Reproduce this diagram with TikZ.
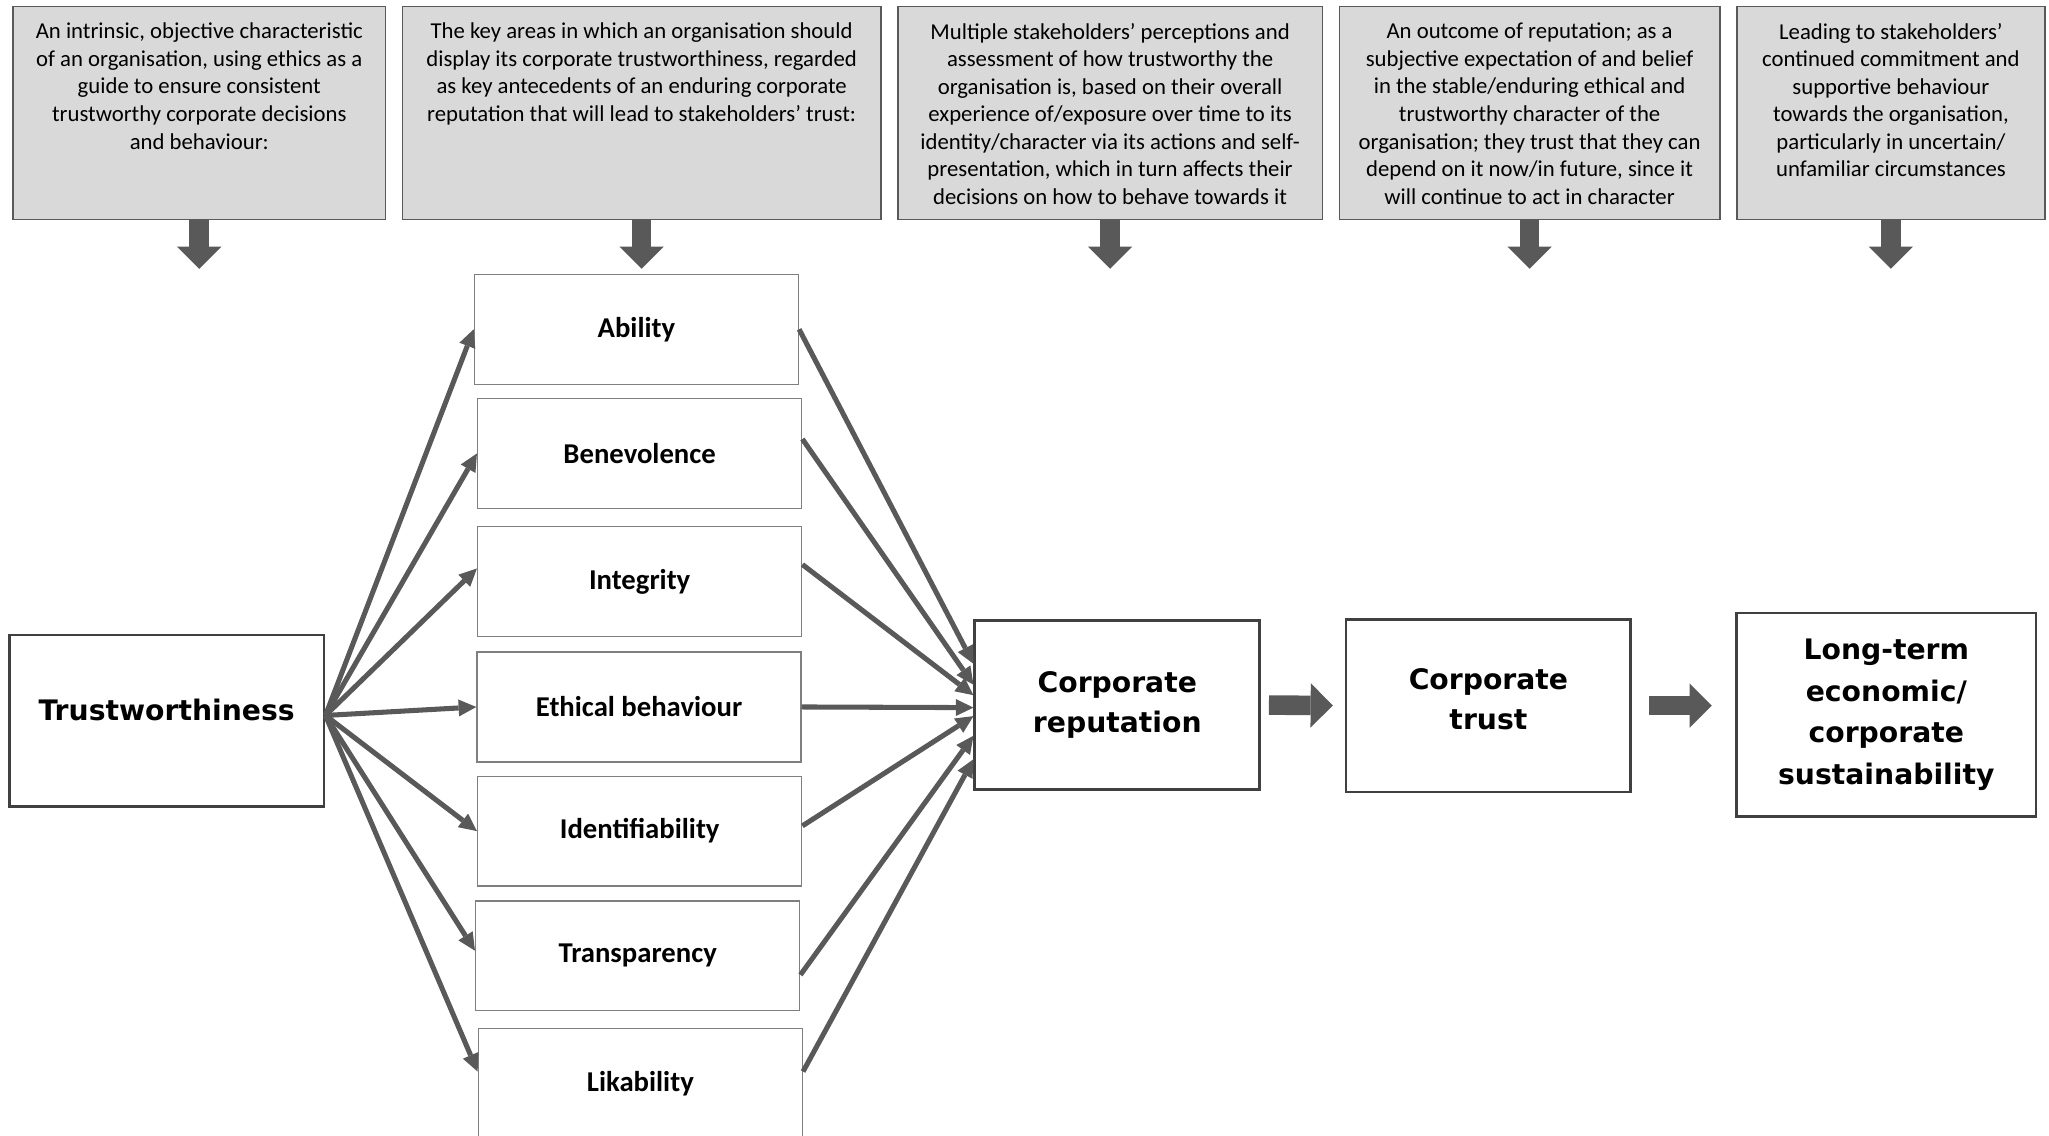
\documentclass[tikz,border=0pt]{standalone}
\usepackage{fontspec}
\setmainfont{Carlito}
\newfontfamily\heavyfont{DejaVu Sans}
\usetikzlibrary{arrows.meta}
\definecolor{arrowgray}{HTML}{595959}
\definecolor{boxgray}{HTML}{D9D9D9}
\definecolor{linegray}{HTML}{7F7F7F}
\definecolor{framegray}{HTML}{404040}

\tikzset{
  descbox/.style={draw=arrowgray, fill=boxgray, line width=0.8pt, minimum height=3.26cm, inner sep=0pt},
  desctext/.style={anchor=north, align=center, inner xsep=0pt, inner ysep=0.26cm, font=\fontsize{9.9}{12}\selectfont},
  keybox/.style={draw=linegray, line width=0.6pt, minimum width=4.96cm, minimum height=1.68cm, font=\bfseries\fontsize{12.5}{15}\selectfont},
  mainbox/.style={draw=framegray, line width=1.2pt, align=center, inner sep=0pt, font=\heavyfont\bfseries\fontsize{12.3}{17.6}\selectfont},
  conn/.style={draw=arrowgray, line width=2.2pt, -{Triangle[length=0.27cm, width=0.26cm, line width=0pt]}},
  bigarrow/.style={draw=arrowgray, line width=0.3cm, -{Triangle[length=0.34cm, width=0.68cm, line width=0pt]}},
}

\begin{document}
\begin{tikzpicture}
    \useasboundingbox (0,0) rectangle (31.36,-17.38);
    \clip (0,0) rectangle (31.36,-17.38);

    % Descriptions on top
    \node[descbox, minimum width=5.70cm] (desc1) at (3.05,-1.73) {};
    \node[desctext] at (desc1.north) {An intrinsic, objective characteristic\\ of an organisation, using ethics as a\\ guide to ensure consistent\\ trustworthy corporate decisions\\ and behaviour:};
    \node[descbox, minimum width=7.32cm] (desc2) at (9.82,-1.73) {};
    \node[desctext] at (desc2.north) {The key areas in which an organisation should\\ display its corporate trustworthiness, regarded\\ as key antecedents of an enduring corporate\\ reputation that will lead to stakeholders’ trust:};
    \node[descbox, minimum width=6.50cm] (desc3) at (16.99,-1.73) {};
    \node[desctext] at (desc3.north) {Multiple stakeholders’ perceptions and\\ assessment of how trustworthy the\\ organisation is, based on their overall\\ experience of/exposure over time to its\\ identity/character via its actions and self-\\ presentation, which in turn affects their\\ decisions on how to behave towards it};
    \node[descbox, minimum width=5.82cm] (desc4) at (23.41,-1.73) {};
    \node[desctext] at (desc4.north) {An outcome of reputation; as a\\ subjective expectation of and belief\\ in the stable/enduring ethical and\\ trustworthy character of the\\ organisation; they trust that they can\\ depend on it now/in future, since it\\ will continue to act in character};
    \node[descbox, minimum width=4.72cm] (desc5) at (28.94,-1.73) {};
    \node[desctext] at (desc5.north) {Leading to stakeholders’\\ continued commitment and\\ supportive behaviour\\ towards the organisation,\\ particularly in uncertain/\\ unfamiliar circumstances};

    % Down arrows
    \coordinate (down1) at ([yshift=-0.74cm]desc1.south);
    \coordinate (down2) at ([yshift=-0.74cm]desc2.south);
    \coordinate (down3) at ([yshift=-0.74cm]desc3.south);
    \coordinate (down4) at ([yshift=-0.74cm]desc4.south);
    \coordinate (down5) at ([yshift=-0.74cm]desc5.south);
    \draw[bigarrow] (desc1.south) -- (down1);
    \draw[bigarrow] (desc2.south) -- (down2);
    \draw[bigarrow] (desc3.south) -- (down3);
    \draw[bigarrow] (desc4.south) -- (down4);
    \draw[bigarrow] (desc5.south) -- (down5);

    % Key areas
    \node[keybox] (abil) at (9.74,-5.04) {Ability};
    \node[keybox] (bene) at (9.79,-6.94) {Benevolence};
    \node[keybox] (integ) at (9.79,-8.90) {Integrity};
    \node[keybox] (ethic) at (9.78,-10.82) {Ethical behaviour};
    \node[keybox] (ident) at (9.79,-12.72) {Identifiability};
    \node[keybox] (transp) at (9.76,-14.63) {Transparency};
    \node[keybox] (lik) at (9.80,-16.58) {Likability};

    % Main chain
    \node[mainbox, minimum width=4.82cm, minimum height=2.62cm, text depth=0.32cm] (tw) at (2.55,-11.03) {Trustworthiness};
    \node[mainbox, minimum width=4.36cm, minimum height=2.58cm, yshift=-0.04cm] (rep) at (17.10,-10.75) {Corporate\\ reputation};
    \node[mainbox, minimum width=4.36cm, minimum height=2.64cm, text depth=0.2cm] (trust) at (22.78,-10.80) {Corporate\\ trust};
    \node[mainbox, minimum width=4.58cm, minimum height=3.12cm, font=\heavyfont\bfseries\fontsize{12.3}{18.2}\selectfont] (lt) at (28.87,-10.94) {Long-term\\ economic/\\ corporate\\ sustainability};

    % Trustworthiness to key areas
    \coordinate (hub) at ([yshift=0.08cm]tw.east);
    \draw[conn] (hub) -- (abil.west);
    \draw[conn] (hub) -- (bene.west);
    \draw[conn] (hub) -- ([yshift=0.2cm]integ.west);
    \draw[conn] (hub) -- (ethic.west);
    \draw[conn] (hub) -- (ident.west);
    \draw[conn] (hub) -- ([yshift=0.08cm]transp.west);
    \draw[conn] (hub) -- ([yshift=0.18cm]lik.west);

    % Key areas to reputation
    \draw[conn] (abil.east) -- ([yshift=0.63cm]rep.west);
    \draw[conn] ([yshift=0.22cm]bene.east) -- ([yshift=0.31cm]rep.west);
    \draw[conn] ([yshift=0.26cm]integ.east) -- ([yshift=0.15cm]rep.west);
    \draw[conn] (ethic.east) -- ([yshift=-0.04cm]rep.west);
    \draw[conn] ([yshift=0.08cm]ident.east) -- ([yshift=-0.17cm]rep.west);
    \draw[conn] ([yshift=-0.29cm]transp.east) -- ([yshift=-0.47cm]rep.west);
    \draw[conn] ([yshift=0.18cm]lik.east) -- ([yshift=-0.83cm]rep.west);

    % Reputation -> trust -> sustainability
    \draw[bigarrow, shorten <=0.12cm, shorten >=0.18cm] (rep.east) -- (trust.west);
    \draw[bigarrow, shorten <=0.26cm, shorten >=0.36cm] (trust.east) -- (trust.east -| lt.west);
\end{tikzpicture}
\end{document}
